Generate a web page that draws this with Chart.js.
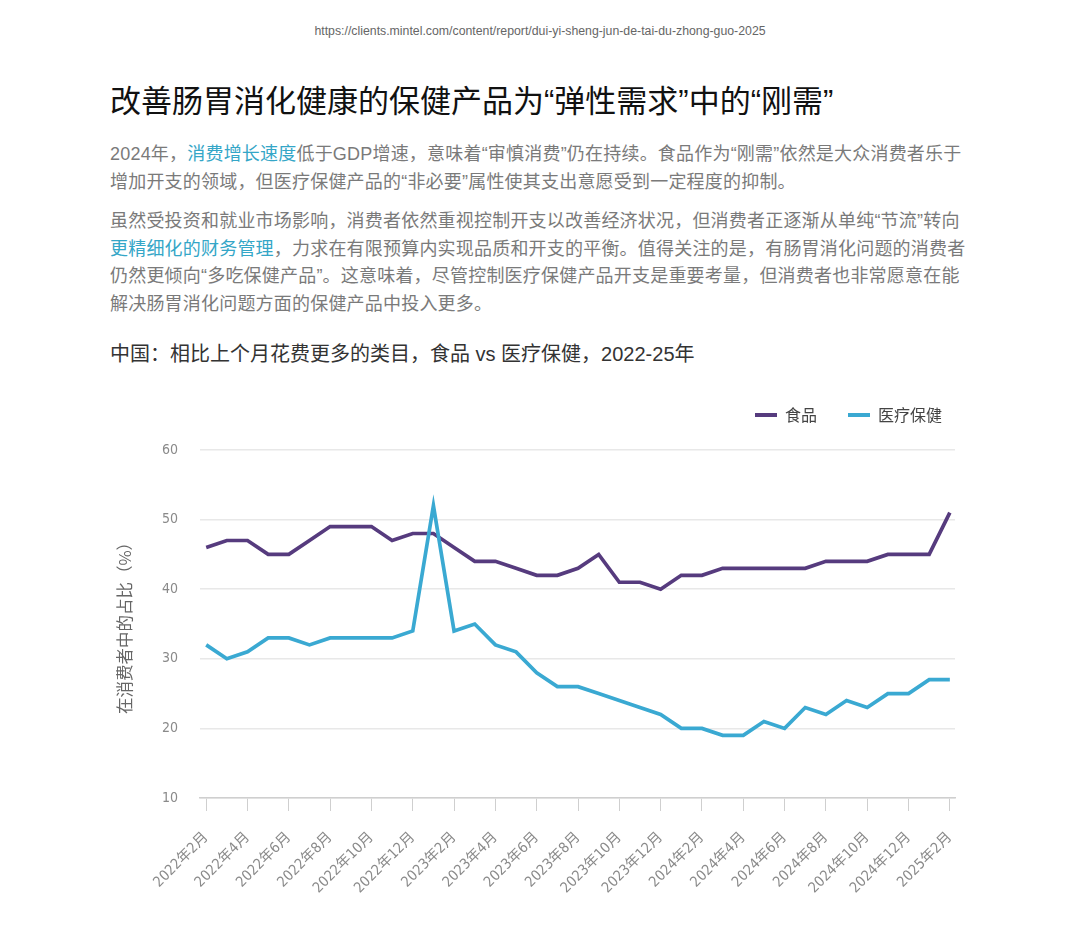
<!DOCTYPE html>
<html lang="zh-CN">
<head>
<meta charset="utf-8">
<title>食品 vs 医疗保健</title>
<script src="https://cdn.jsdelivr.net/npm/chart.js@4.4.1/dist/chart.umd.min.js"></script>
<style>
  body { margin: 0; width: 1080px; height: 942px; background: #fff; position: relative; overflow: hidden;
         font-family: "Liberation Sans", "Noto Sans CJK SC", sans-serif; }
  .url { position: absolute; top: 23px; left: 0; width: 1080px; text-align: center; line-height: 16px;
         font-family: "Liberation Sans Narrow", "Liberation Sans", sans-serif; font-size: 12.3px; color: #666; }
  h1 { position: absolute; left: 110px; top: 82px; margin: 0; font-size: 31px; font-weight: 400;
       line-height: 40px; color: #111; white-space: nowrap; }
  .p { position: absolute; left: 110px; margin: 0; font-size: 18px; line-height: 27.7px; color: #7a7a7a;
       letter-spacing: 0.2px; white-space: nowrap; }
  .p a { color: #34a6c7; text-decoration: none; }
  .sub { position: absolute; left: 110px; top: 340px; font-size: 20px; line-height: 28px; color: #333; white-space: nowrap; }
  #wrap { position: absolute; left: 100px; top: 376px; width: 873px; height: 542px; }
</style>
</head>
<body>
<div class="url">https://clients.mintel.com/content/report/dui-yi-sheng-jun-de-tai-du-zhong-guo-2025</div>
<h1>改善肠胃消化健康的保健产品为“弹性需求”中的“刚需”</h1>
<div class="p" style="top:141px">2024年，<a>消费增长速度</a>低于GDP增速，意味着“审慎消费”仍在持续。食品作为“刚需”依然是大众消费者乐于<br>增加开支的领域，但医疗保健产品的“非必要”属性使其支出意愿受到一定程度的抑制。</div>
<div class="p" style="top:208px">虽然受投资和就业市场影响，消费者依然重视控制开支以改善经济状况，但消费者正逐渐从单纯“节流”转向<br><a>更精细化的财务管理</a>，力求在有限预算内实现品质和开支的平衡。值得关注的是，有肠胃消化问题的消费者<br>仍然更倾向“多吃保健产品”。这意味着，尽管控制医疗保健产品开支是重要考量，但消费者也非常愿意在能<br>解决肠胃消化问题方面的保健产品中投入更多。</div>
<div class="sub">中国：相比上个月花费更多的类目，食品 vs 医疗保健，2022-25年</div>
<div id="wrap"><canvas id="chart"></canvas></div>

<script>
// 月份（2022年2月 - 2025年2月）
const months = [
  '2022年2月', '2022年3月', '2022年4月', '2022年5月', '2022年6月', '2022年7月', '2022年8月',
  '2022年9月', '2022年10月', '2022年11月', '2022年12月', '2023年1月', '2023年2月', '2023年3月',
  '2023年4月', '2023年5月', '2023年6月', '2023年7月', '2023年8月', '2023年9月', '2023年10月',
  '2023年11月', '2023年12月', '2024年1月', '2024年2月', '2024年3月', '2024年4月', '2024年5月',
  '2024年6月', '2024年7月', '2024年8月', '2024年9月', '2024年10月', '2024年11月', '2024年12月',
  '2025年1月', '2025年2月'
];
const seriesNames = ['食品', '医疗保健'];
const food =   [46, 47, 47, 45, 45, 47, 49, 49, 49, 47, 48, 48, 46, 44, 44, 43, 42, 42, 43, 45, 41, 41, 40, 42, 42, 43, 43, 43, 43, 43, 44, 44, 44, 45, 45, 45, 51];
const health = [32, 30, 31, 33, 33, 32, 33, 33, 33, 33, 34, 52, 34, 35, 32, 31, 28, 26, 26, 25, 24, 23, 22, 20, 20, 19, 19, 21, 20, 23, 22, 24, 23, 25, 25, 27, 27];
const yTicks = [10, 20, 30, 40, 50, 60];

const PURPLE = '#563b7e';
const BLUE = '#3aa9d2';
const numFont = '"DejaVu Sans Condensed", "Noto Sans CJK SC", sans-serif';
const cjkFont = '"Noto Sans CJK SC", sans-serif';

// 图例和绘图区之间多留一点空
const legendGap = {
  id: 'legendGap',
  beforeInit(chart) {
    const fit = chart.legend.fit;
    chart.legend.fit = function () { fit.call(this); this.height += 17; };
  }
};

const toPoints = arr => arr.map((v, i) => ({ x: i, y: v }));

new Chart(document.getElementById('chart'), {
  type: 'line',
  data: {
    datasets: [
      { label: seriesNames[0], data: toPoints(food), borderColor: PURPLE, backgroundColor: PURPLE, order: 2 },
      { label: seriesNames[1], data: toPoints(health), borderColor: BLUE, backgroundColor: BLUE, order: 1 }
    ]
  },
  options: {
    responsive: true,
    maintainAspectRatio: false,
    animation: false,
    layout: { padding: 0 },
    elements: {
      line: { borderWidth: 3.7, tension: 0, borderJoinStyle: 'miter' },
      point: { radius: 0 }
    },
    plugins: {
      tooltip: { enabled: false },
      legend: {
        position: 'top',
        align: 'end',
        labels: {
          boxWidth: 22,
          boxHeight: 4,
          padding: 31,
          color: '#444',
          font: { family: cjkFont, size: 16 },
          sort: (a, b) => a.datasetIndex - b.datasetIndex,
          generateLabels: chart => Chart.defaults.plugins.legend.labels.generateLabels(chart)
            .map(l => ({ ...l, lineWidth: 0, fillStyle: l.strokeStyle }))
        }
      }
    },
    scales: {
      x: {
        type: 'linear',
        min: -0.3,
        max: 36.25,
        afterBuildTicks: s => { s.ticks = months.map((m, i) => i).filter(i => i % 2 === 0).map(v => ({ value: v })); },
        afterFit: s => { s.height = 120; s.paddingRight = 18; },
        grid: { drawOnChartArea: false, drawTicks: true, tickLength: 13, color: '#cfcfcf', lineWidth: 1 },
        border: { color: '#cfcfcf', width: 1.5 },
        ticks: {
          autoSkip: false,
          minRotation: 45,
          maxRotation: 45,
          padding: 18,
          color: '#8a8a8a',
          font: { family: numFont, size: 14.5 },
          callback: v => months[v]
        }
      },
      y: {
        min: yTicks[0],
        max: yTicks[yTicks.length - 1],
        afterBuildTicks: s => { s.ticks = yTicks.map(v => ({ value: v })); },
        afterFit: s => { s.width = 100; },
        grid: { color: '#e8e8e8', lineWidth: 1.5, drawTicks: false },
        border: { display: false },
        ticks: { padding: 22, color: '#8a8a8a', font: { family: numFont, size: 14 } },
        title: {
          display: true,
          text: '在消费者中的占比（%）',
          color: '#666',
          font: { family: cjkFont, size: 16.5 },
          padding: { top: 15, bottom: 0 }
        }
      }
    }
  },
  plugins: [legendGap]
});
</script>
</body>
</html>
